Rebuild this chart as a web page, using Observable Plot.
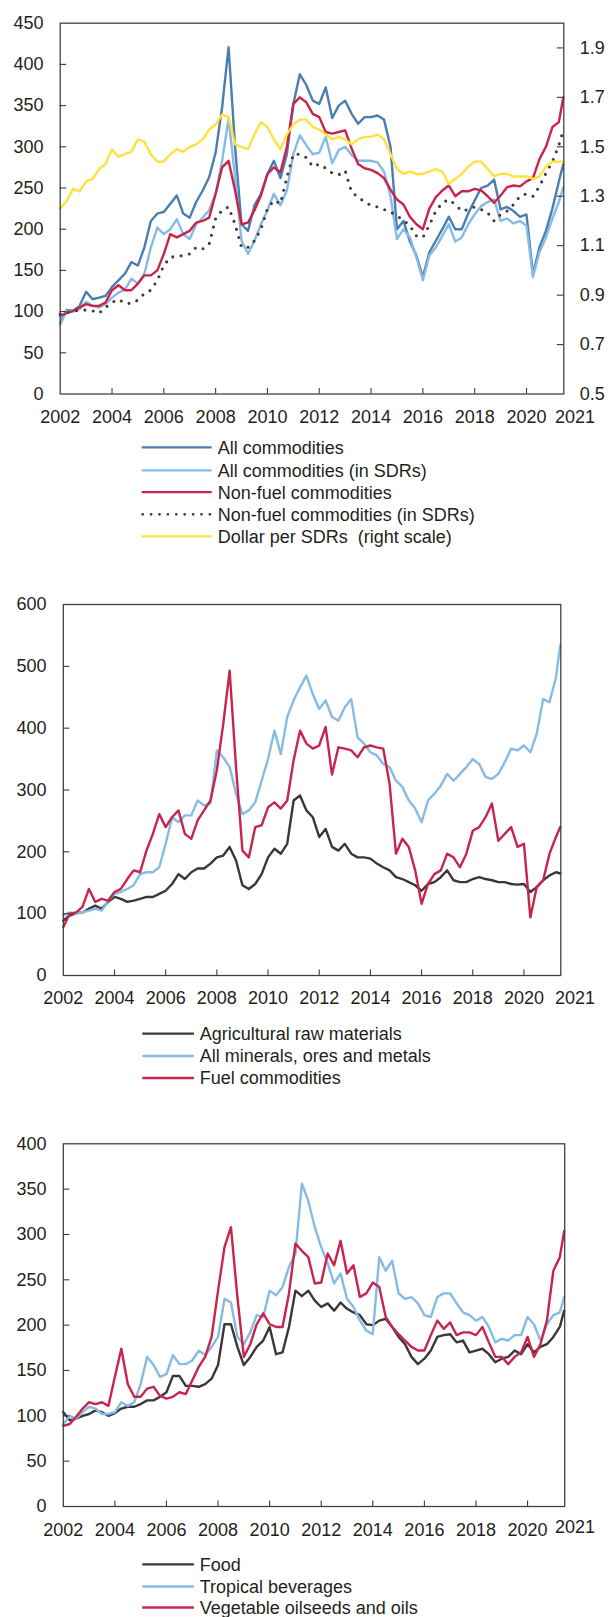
<!DOCTYPE html>
<html>
<head>
<meta charset="utf-8">
<script src="https://cdn.jsdelivr.net/npm/d3@7"></script>
<script src="https://cdn.jsdelivr.net/npm/@observablehq/plot@0.6"></script>
<style>
html, body { margin: 0; padding: 0; background: #ffffff; }
#page { position: relative; width: 608px; height: 1617px; overflow: hidden; background: #ffffff; }
#page svg { position: absolute; left: 0; }
</style>
</head>
<body>
<div id="page"></div>
<script>
// ---------- time axis (quarterly readings, last point = latest month) ----------
const quarters = d3.range(2002, 2021.3, 0.25).concat([2021.42]);
const xEnd = 2021.44;
const xTickYears = [2002, 2004, 2006, 2008, 2010, 2012, 2014, 2016, 2018, 2020];
const xInnerTicks = [2004, 2006, 2008, 2010, 2012, 2014, 2016, 2018, 2020];
const xEndLabel = "2021";

// ---------- Chart 1 ----------
const leftTicks1 = [0, 50, 100, 150, 200, 250, 300, 350, 400, 450];
const rightTicks1 = [0.5, 0.7, 0.9, 1.1, 1.3, 1.5, 1.7, 1.9];
const names1 = ["All commodities", "All commodities (in SDRs)", "Non-fuel commodities", "Non-fuel commodities (in SDRs)", "Dollar per SDRs  (right scale)"];
const allCommodities = [
  87,102,101,107, 124,115,117,119, 130,138,146,160, 156,178,210,219,
  221,231,241,219, 214,233,247,263, 293,348,421,300, 206,198,229,243,
  267,283,262,291, 352,388,375,356, 352,372,335,350, 356,340,328,336,
  336,338,333,300, 200,210,185,168, 142,172,186,200, 215,200,200,219,
  235,250,253,260, 224,227,222,215, 218,145,178,198, 225,258,279];
const allCommoditiesSDR = [
  84,101,100,103, 112,107,105,109, 117,123,127,140, 134,146,178,202,
  194,200,212,194, 188,206,214,223, 243,283,334,263, 186,170,186,206,
  223,243,229,247, 291,314,302,291, 293,312,280,296, 300,290,283,283,
  283,281,270,240, 188,200,190,166, 138,168,178,192, 206,185,190,206,
  218,228,233,236, 210,213,207,210, 204,142,172,190, 213,233,251];
const nonFuel = [
  95,98,101,105, 109,107,107,111, 126,132,126,126, 134,144,144,150,
  170,194,190,194, 198,208,210,214, 243,275,283,247, 206,208,223,241,
  267,275,269,300, 352,360,354,340, 336,318,316,318, 320,298,279,274,
  272,268,262,248, 236,230,215,206, 200,225,239,247, 253,240,246,246,
  249,247,240,232, 241,251,253,252, 258,262,285,300, 324,330,360];
const nonFuelSDR = [
  97,99,101,101, 102,101,98,105, 111,115,110,110, 114,122,126,138,
  156,166,167,168, 170,178,176,182, 213,223,227,206, 178,178,186,200,
  225,235,231,263, 291,291,287,276, 279,274,268,266, 271,245,239,233,
  229,227,224,221, 216,211,204,192, 190,205,222,232, 236,230,222,224,
  227,224,220,210, 218,222,230,240, 243,240,252,268, 282,302,320];
const dollarPerSDR = [
  1.25,1.28,1.33,1.32, 1.36,1.37,1.41,1.43, 1.49,1.46,1.47,1.48, 1.53,1.52,1.47,1.44,
  1.44,1.47,1.49,1.48, 1.50,1.51,1.53,1.57, 1.59,1.63,1.62,1.51, 1.50,1.49,1.55,1.60,
  1.58,1.53,1.49,1.55, 1.59,1.61,1.61,1.58, 1.57,1.55,1.53,1.54, 1.53,1.51,1.53,1.54,
  1.54,1.55,1.53,1.47, 1.41,1.39,1.40,1.39, 1.39,1.40,1.41,1.40, 1.35,1.37,1.39,1.42,
  1.44,1.44,1.41,1.38, 1.39,1.39,1.38,1.38, 1.38,1.37,1.38,1.42, 1.44,1.44,1.44];

// ---------- Chart 2 ----------
const leftTicks2 = [0, 100, 200, 300, 400, 500, 600];
const names2 = ["Agricultural raw materials", "All minerals, ores and metals", "Fuel commodities"];
const agriRaw = [
  89,97,101,102, 108,113,108,119, 127,124,119,121, 124,127,127,132,
  137,148,164,156, 167,173,173,181, 191,194,208,186, 146,140,148,164,
  191,205,197,213, 283,291,267,256, 224,237,208,202, 213,197,191,191,
  189,181,175,170, 159,156,151,146, 137,148,151,159, 170,154,151,151,
  156,159,156,154, 151,151,148,147, 148,135,143,154, 162,167,165];
const minerals = [
  97,102,100,102, 105,108,105,121, 132,135,140,146, 164,167,167,175,
  213,256,248,259, 259,283,275,278, 364,353,337,294, 261,267,280,315,
  350,396,358,418, 445,466,485,455, 431,445,418,412, 434,447,385,375,
  361,356,342,337, 315,305,283,270, 248,283,294,307, 326,315,326,337,
  350,342,321,318, 326,345,367,364, 372,361,391,447, 442,482,534];
const fuel = [
  78,100,102,111, 140,119,124,121, 135,140,156,170, 167,202,229,261,
  240,256,267,229, 221,251,267,283, 332,407,493,337, 202,191,240,243,
  272,280,270,283, 348,396,375,367, 372,402,325,369, 367,364,353,369,
  372,369,367,310, 197,221,208,170, 116,148,164,170, 197,191,175,197,
  234,240,256,278, 218,229,240,208, 213,94,143,154, 197,224,240];

// ---------- Chart 3 ----------
const leftTicks3 = [0, 50, 100, 150, 200, 250, 300, 350, 400];
const names3 = ["Food", "Tropical beverages", "Vegetable oilseeds and oils"];
const food = [
  104,95,97,100, 102,106,104,100, 103,108,110,110, 113,117,117,121,
  126,144,144,133, 133,132,135,141, 156,201,201,176, 156,165,176,183,
  198,168,170,198, 238,232,238,227, 220,224,216,225, 218,214,211,201,
  200,205,207,198, 187,179,165,157, 163,172,187,189, 190,181,183,170,
  172,174,168,159, 163,165,172,168, 179,170,176,179, 187,198,216];
const tropicalBeverages = [
  91,100,97,104, 110,108,102,102, 104,115,111,115, 135,165,156,143,
  146,167,157,157, 161,172,167,176, 187,229,225,187, 179,192,211,209,
  238,233,242,264, 279,356,337,308, 286,268,246,257, 229,220,205,194,
  190,275,260,271, 235,229,231,224, 211,209,231,235, 235,224,214,211,
  205,209,198,181, 185,183,189,189, 209,201,183,201, 211,214,231];
const vegOils = [
  89,91,99,108, 115,113,115,111, 143,174,135,121, 121,130,132,122,
  119,121,126,124, 139,154,165,187, 238,286,308,231, 165,179,201,213,
  201,198,198,235, 290,282,275,246, 247,279,266,293, 257,266,231,235,
  247,242,209,198, 190,183,176,172, 172,189,205,196, 203,189,192,192,
  189,198,181,165, 165,157,165,170, 187,165,179,205, 260,275,304];

// ---------- styles ----------
const FONT = '"Liberation Sans", Arial, Helvetica, sans-serif';
const TEXT = "#231f20";
const FRAME = "#3c3c3c";
const C_DARKBLUE = "#4a7db2";
const C_LIGHTBLUE = "#86bbe5";
const C_RED = "#c8244c";
const C_DOTS = "#45393c";
const C_YELLOW = "#ffe13f";
const C_DARK = "#3d3537";
const DOTTED = "0 8.4";

const page = document.getElementById("page");
const toLeft1 = r => (r - 0.5) / 1.5 * 450;   // right scale 0.5–2.0 onto left 0–450

function rows(values) { return quarters.map((t, i) => ({t, v: values[i]})); }

function drawChart(cfg) {
  const width = 608;
  const plotW = width - cfg.ml - cfg.mr;
  const plotH = cfg.height - cfg.mt - cfg.mb;
  const lines = cfg.series.map(s => Plot.line(rows(s.values), {
    x: "t", y: "v", stroke: s.color,
    strokeWidth: s.dash ? 3.1 : 2.4,
    strokeDasharray: s.dash ? DOTTED : null,
    strokeLinecap: "round", strokeLinejoin: "round"
  }));
  const marks = [
    ...lines,
    Plot.frame({stroke: FRAME, strokeWidth: 1.25}),
    Plot.tickX(xInnerTicks, {x: d => d, stroke: FRAME, strokeWidth: 1.1, insetTop: plotH - 5.5}),
    Plot.tickY(cfg.yTicks.slice(1, -1), {y: d => d, stroke: FRAME, strokeWidth: 1.1, insetRight: plotW - 6.5}),
    Plot.axisX(xTickYears, {tickSize: 0, tickPadding: cfg.xPad, tickFormat: d => String(d), label: null, fill: TEXT}),
    Plot.axisX([xEnd], {tickSize: 0, tickPadding: cfg.xPad, tickFormat: () => xEndLabel, dx: cfg.endDx, dy: cfg.endDy || 0, label: null, fill: TEXT}),
    Plot.axisY(cfg.yTicks, {anchor: "left", tickSize: 0, tickPadding: 16.7, label: null, fill: TEXT}),
    ...(cfg.extra || [])
  ];
  const svg = Plot.plot({
    width, height: cfg.height,
    marginTop: cfg.mt, marginBottom: cfg.mb, marginLeft: cfg.ml, marginRight: cfg.mr,
    x: {domain: [2002, xEnd]},
    y: {domain: cfg.yDomain},
    style: {fontFamily: FONT, fontSize: "18px", color: TEXT, background: "transparent", overflow: "visible"},
    marks
  });
  svg.style.top = cfg.top + "px";
  page.appendChild(svg);
}

// Chart 1
drawChart({
  top: 0, height: 430, ml: 59.7, mr: 44.7, mt: 22.7, mb: 36.5, xPad: 16.5, endDx: 11.3,
  yDomain: [0, 450], yTicks: leftTicks1,
  series: [
    {values: allCommodities, color: C_DARKBLUE},
    {values: allCommoditiesSDR, color: C_LIGHTBLUE},
    {values: nonFuel, color: C_RED},
    {values: nonFuelSDR, color: C_DOTS, dash: true},
    {values: dollarPerSDR.map(toLeft1), color: C_YELLOW}
  ],
  extra: [
    Plot.tickY(rightTicks1.slice(1).map(toLeft1), {y: d => d, stroke: FRAME, strokeWidth: 1.1, insetLeft: (608 - 59.7 - 44.7) - 6.5}),
    Plot.axisY(rightTicks1.map(toLeft1), {anchor: "right", tickSize: 0, tickPadding: 16, label: null, fill: TEXT,
      tickFormat: (d, i) => rightTicks1[i].toFixed(1)})
  ]
});

// Chart 2
drawChart({
  top: 580, height: 430, ml: 62.8, mr: 47.7, mt: 24, mb: 35, xPad: 15.5, endDx: 14.3,
  yDomain: [0, 600], yTicks: leftTicks2,
  series: [
    {values: agriRaw, color: C_DARK},
    {values: minerals, color: C_LIGHTBLUE},
    {values: fuel, color: C_RED}
  ]
});

// Chart 3
drawChart({
  top: 1130, height: 420, ml: 62.8, mr: 43.8, mt: 13.3, mb: 44, xPad: 16.5, endDx: 10.4, endDy: -2.6,
  yDomain: [0, 400], yTicks: leftTicks3,
  series: [
    {values: food, color: C_DARK},
    {values: tropicalBeverages, color: C_LIGHTBLUE},
    {values: vegOils, color: C_RED}
  ]
});

// ---------- legends ----------
const legends = [
  {x1: 141.7, x2: 211.7, tx: 217.7, ys: [447.3, 470.3, 492.2, 514.3, 536.3], names: names1,
   colors: [C_DARKBLUE, C_LIGHTBLUE, C_RED, C_DOTS, C_YELLOW], dash: [false, false, false, true, false]},
  {x1: 142.3, x2: 193.9, tx: 199.7, ys: [1033.7, 1056, 1078], names: names2,
   colors: [C_DARK, C_LIGHTBLUE, C_RED], dash: [false, false, false]},
  {x1: 142.3, x2: 193.9, tx: 199.7, ys: [1564.3, 1586.5, 1607.5], names: names3,
   colors: [C_DARK, C_LIGHTBLUE, C_RED], dash: [false, false, false]}
];
const lg = d3.select(page).append("svg")
  .attr("width", 608).attr("height", 1617)
  .style("top", "0px").style("pointer-events", "none");
legends.forEach(L => {
  L.names.forEach((name, i) => {
    const y = L.ys[i];
    lg.append("line")
      .attr("x1", L.dash[i] ? L.x1 + 1 : L.x1).attr("x2", L.x2).attr("y1", y).attr("y2", y)
      .attr("stroke", L.colors[i])
      .attr("stroke-width", L.dash[i] ? 2.8 : 2.3)
      .attr("stroke-dasharray", L.dash[i] ? DOTTED : null)
      .attr("stroke-linecap", L.dash[i] ? "round" : "butt");
    lg.append("text")
      .attr("x", L.tx).attr("y", y + 6.4)
      .attr("font-family", FONT).attr("font-size", 18).attr("fill", TEXT)
      .style("white-space", "pre")
      .text(name);
  });
});
</script>
</body>
</html>
